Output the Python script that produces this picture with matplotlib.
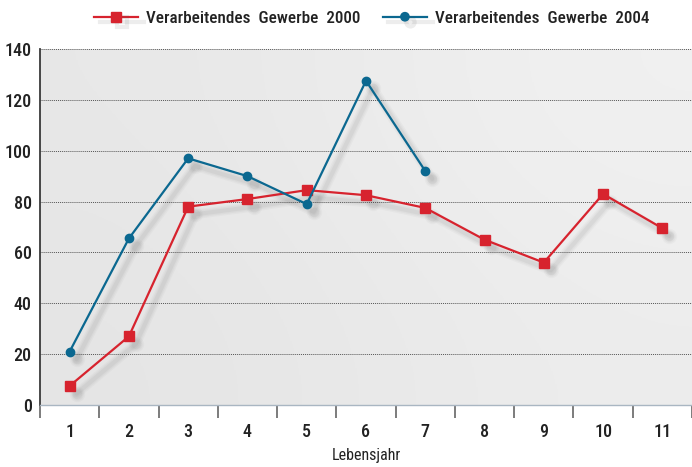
import numpy as np
import matplotlib
matplotlib.use('Agg')
import matplotlib.pyplot as plt
from matplotlib.transforms import offset_copy
import matplotlib.patheffects as pe

plt.rcParams['font.family'] = ['Liberation Sans Narrow', 'DejaVu Sans Condensed',
                               'Roboto Condensed', 'Liberation Sans', 'DejaVu Sans']
plt.rcParams['font.stretch'] = 'condensed'
plt.rcParams['font.weight'] = 'medium'

# data
jahre = [1, 2, 3, 4, 5, 6, 7, 8, 9, 10, 11]
gewerbe_2000 = [7.5, 27, 78, 81, 84.5, 82.5, 77.5, 65, 56, 83, 69.5]
jahre_2004 = [1, 2, 3, 4, 5, 6, 7]
gewerbe_2004 = [21, 65.5, 97, 90, 79, 127.5, 92]
yticks = [0, 20, 40, 60, 80, 100, 120, 140]

rot = '#d7232e'
blau = '#0b6890'
fs = 13

fig = plt.figure(figsize=(6.92, 4.67), dpi=100)
ax = fig.add_axes([40/692, 1 - 405/467, 652/692, 356/467])

# light grey gradient background
grad = np.array([[0.905, 0.94], [0.895, 0.925]])
ax.imshow(grad, cmap='gray', vmin=0, vmax=1, extent=[0, 1, 0, 1],
          transform=ax.transAxes, aspect='auto', interpolation='bicubic', zorder=0)

# shadows (stacked to fake a blur)
for xs, ys in [(jahre, gewerbe_2000), (jahre_2004, gewerbe_2004)]:
    for lw, a in [(7, 0.035), (5, 0.045), (3, 0.06)]:
        tr = offset_copy(ax.transData, fig=fig, x=5, y=-5.5, units='points')
        ax.plot(xs, ys, color='#505050', lw=lw, alpha=a, transform=tr,
                solid_capstyle='round', solid_joinstyle='round', zorder=2)
        ax.plot(xs, ys, ls='none', marker='o', ms=lw + 4, color='#505050',
                alpha=a, transform=tr, mec='none', zorder=2)

l1, = ax.plot(jahre, gewerbe_2000, color=rot, lw=1.6, marker='s', ms=7,
              mec=rot, zorder=4, label='Verarbeitendes  Gewerbe  2000')
l2, = ax.plot(jahre_2004, gewerbe_2004, color=blau, lw=1.6, marker='o', ms=6,
              mec=blau, zorder=5, label='Verarbeitendes  Gewerbe  2004')

ax.set_xlim(0.5, 11.5)
ax.set_ylim(0, 140)
ax.set_yticks(yticks)
ax.set_yticklabels([str(v) for v in yticks], fontsize=fs, color='#222222')
ax.tick_params(axis='y', length=0, pad=6)
ax.yaxis.grid(True, color='#555555', lw=0.7, ls=(0, (1, 1)), zorder=1)

# ticks at the category boundaries, labels at the centres
ax.set_xticks(np.arange(0.5, 12.0, 1.0))
ax.set_xticklabels([])
ax.tick_params(axis='x', which='major', length=9, width=1.2, color='#666666',
               direction='out')
ax.set_xticks(jahre, minor=True)
ax.set_xticklabels([str(j) for j in jahre], minor=True, fontsize=fs, color='#222222')
ax.tick_params(axis='x', which='minor', length=0, pad=13)
ax.set_xlabel('Lebensjahr', fontsize=fs - 1.5, color='#222222', labelpad=5)

for s in ['top', 'right']:
    ax.spines[s].set_visible(False)
ax.spines['left'].set_color('#3a3a3a')
ax.spines['left'].set_linewidth(1.3)
ax.spines['bottom'].set_color('#a9b6c2')
ax.spines['bottom'].set_linewidth(1.0)

# legend with shadowed handles
shadow = [pe.SimpleLineShadow(offset=(4, -4), shadow_color='#505050', alpha=0.1,
                              linewidth=3), pe.Normal()]
h1, = ax.plot([], [], color=rot, lw=1.6, marker='s', ms=7, path_effects=shadow)
h2, = ax.plot([], [], color=blau, lw=1.6, marker='o', ms=6, path_effects=shadow)
fig.legend([h1, h2], [l1.get_label(), l2.get_label()], loc='center',
           bbox_to_anchor=(0.537, 0.961), ncol=2, frameon=False, fontsize=12.3,
           handlelength=2.6, handletextpad=0.45, columnspacing=1.3,
           labelcolor='#222222')

fig.savefig('out.png', dpi=100)
